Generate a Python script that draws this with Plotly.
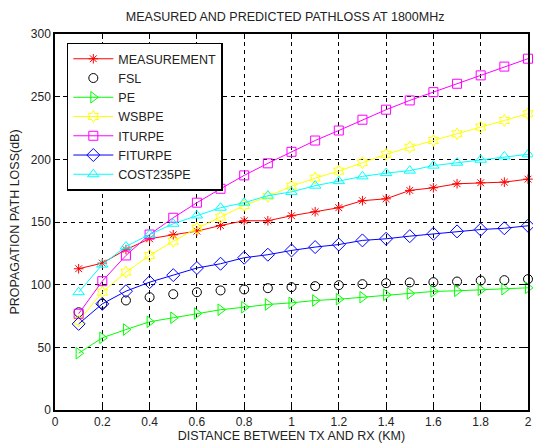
import plotly.graph_objects as go

distance = [0.1, 0.2, 0.3, 0.4, 0.5, 0.6, 0.7, 0.8, 0.9, 1.0,
            1.1, 1.2, 1.3, 1.4, 1.5, 1.6, 1.7, 1.8, 1.9, 2.0]

measurement = [112.7, 117.2, 128, 136.6, 139.8, 142.7, 147.2, 151, 151, 155,
               158.2, 161.4, 167, 168.5, 175.2, 177.3, 180.5, 181.3, 181.8, 184.2]
fsl = [78, 84.7, 87.4, 90, 92.4, 94, 95.4, 96.2, 97.2, 98,
       98.8, 99.6, 100.4, 101.2, 101.8, 102, 102.5, 103.3, 103.6, 104.4]
pe = [45.3, 57.6, 64.2, 70.4, 73.6, 77, 80, 82, 84.2, 85.5,
      87.4, 88.4, 90, 91.9, 93, 94.6, 95.1, 95.9, 96.4, 97.5]
wsbpe = [71, 94, 110, 123.3, 134.7, 145, 153.9, 163.2, 170.4, 178.6,
         185, 190.6, 197.3, 204, 209.7, 215, 220.4, 225.7, 231, 236.4]
iturpe = [76.8, 102.8, 123.3, 140, 153.4, 165.4, 176.5, 187.2, 196.8, 206,
          215, 223, 231.6, 239.6, 247, 253.6, 260.3, 267, 274, 280.3]
fiturpe = [68.7, 84.7, 94.8, 102, 107.6, 113.3, 116.7, 121.5, 123.9, 127.3,
           130, 132, 135.3, 136.6, 138.7, 140.6, 142.5, 144, 145, 147]
cost235pe = [94, 116, 130.5, 140, 148.6, 155.2, 161.4, 165.4, 171, 174,
             179, 182.6, 186.4, 189, 191, 195, 197.3, 199.7, 202.3, 204]

x_ticks = [0, 0.2, 0.4, 0.6, 0.8, 1, 1.2, 1.4, 1.6, 1.8, 2]
x_tick_labels = ["0", "0.2", "0.4", "0.6", "0.8", "1", "1.2", "1.4", "1.6", "1.8", "2"]
y_ticks = [0, 50, 100, 150, 200, 250, 300]

series = [
    ("MEASUREMENT", measurement, "#FF0000", "asterisk-open", "lines+markers", 8),
    ("FSL", fsl, "#000000", "circle-open", "markers", 9),
    ("PE", pe, "#00FF00", "triangle-right-open", "lines+markers", 10),
    ("WSBPE", wsbpe, "#FFFF00", "hexagram-open", "lines+markers", 9),
    ("ITURPE", iturpe, "#FF00FF", "square-open", "lines+markers", 9),
    ("FITURPE", fiturpe, "#0000FF", "diamond-open", "lines+markers", 10),
    ("COST235PE", cost235pe, "#00FFFF", "triangle-up-open", "lines+markers", 10),
]

fig = go.Figure()
for name, vals, color, sym, mode, size in series:
    fig.add_trace(go.Scatter(
        x=distance, y=vals, name=name, mode=mode,
        line=dict(color=color, width=1),
        marker=dict(symbol=sym, size=size, color=color, line=dict(color=color, width=1)),
        cliponaxis=False,
    ))

FAM = "Liberation Sans, Arial, sans-serif"
font = dict(family=FAM, size=12, color="#222")
label_font = dict(family=FAM, size=12.5, color="#222")

axis_common = dict(
    showline=True, linecolor="black", linewidth=1.5, mirror="ticks",
    ticks="inside", ticklen=5, tickcolor="black",
    showgrid=True, gridcolor="black", griddash="4px,4px", gridwidth=1,
    zeroline=False, tickfont=font, automargin=False,
)

fig.update_layout(
    width=533, height=446,
    margin=dict(l=55, r=5, t=34, b=36),
    paper_bgcolor="white", plot_bgcolor="white",
    font=font,
    title=dict(text="MEASURED AND PREDICTED PATHLOSS AT 1800MHz",
               x=0.535, xanchor="center", y=0.972, yanchor="top",
               font=label_font),
    xaxis=dict(range=[0, 2], tickvals=x_ticks, ticktext=x_tick_labels,
               title=dict(text="DISTANCE BETWEEN TX AND RX (KM)", standoff=1,
                          font=label_font),
               **axis_common),
    yaxis=dict(range=[0, 300], tickvals=y_ticks,
               title=dict(text="PROPAGATION PATH LOSS(dB)", standoff=8,
                          font=label_font),
               **axis_common),
    legend=dict(x=0.025, y=0.977, xanchor="left", yanchor="top",
                bgcolor="white", bordercolor="black", borderwidth=1.5,
                font=dict(family=FAM, size=12.5, color="#222"),
                tracegroupgap=0, itemwidth=40),
)

fig.write_html("out.html", post_script="document.body.style.margin='0';",
               config={"displayModeBar": False})
